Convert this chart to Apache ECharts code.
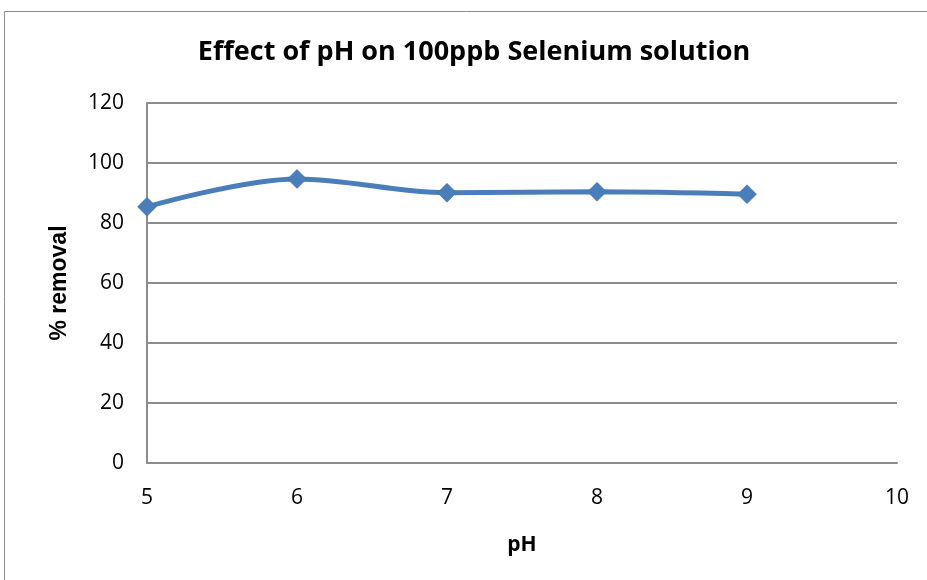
<!DOCTYPE html>
<html>
<head>
<meta charset="utf-8">
<script src="https://cdn.jsdelivr.net/npm/echarts@6/dist/echarts.min.js"></script>
<style>
  html, body { margin: 0; padding: 0; background: #fff; }
  #chart { width: 927px; height: 580px; }
</style>
</head>
<body>
<div id="chart"></div>
<script>
// pH values and the measured selenium removal (%)
const phValues = [5, 6, 7, 8, 9];
const removalPct = [85.4, 94.7, 90.1, 90.4, 89.6];
const yTicks = [0, 20, 40, 60, 80, 100, 120];
const xTicks = [5, 6, 7, 8, 9, 10];

const chart = echarts.init(document.getElementById('chart'), null, { renderer: 'canvas' });

const labelFont = '"Open Sans", "Liberation Sans", sans-serif';

chart.setOption({
  animation: false,
  backgroundColor: '#ffffff',
  title: {
    text: 'Effect of pH on 100ppb Selenium solution',
    left: 469,
    top: 34,
    textAlign: 'center',
    textStyle: { fontFamily: labelFont, fontWeight: 'bold', fontSize: 27, color: '#000' }
  },
  graphic: [{
    type: 'rect',
    shape: { x: 4.5, y: 11.5, width: 940, height: 600 },
    style: { fill: 'none', stroke: '#8a8a8a', lineWidth: 1 },
    silent: true
  }],
  grid: { left: 147, right: 30, top: 103, bottom: 117 },
  xAxis: {
    type: 'value',
    min: xTicks[0],
    max: xTicks[xTicks.length - 1],
    interval: 1,
    name: 'pH',
    nameLocation: 'middle',
    nameGap: 72,
    nameTextStyle: { fontFamily: labelFont, fontWeight: 'bold', fontSize: 21, color: '#000' },
    axisLine: { show: true, lineStyle: { color: '#8c8c8c', width: 2 } },
    axisTick: { show: false },
    splitLine: { show: false },
    axisLabel: { fontFamily: labelFont, fontSize: 21, color: '#000', margin: 25 }
  },
  yAxis: {
    type: 'value',
    min: yTicks[0],
    max: yTicks[yTicks.length - 1],
    interval: 20,
    name: '% removal',
    nameLocation: 'middle',
    nameGap: 76,
    nameRotate: 90,
    nameTextStyle: { fontFamily: '"Liberation Sans", Arial, sans-serif', fontWeight: 'bold', fontSize: 23, color: '#000' },
    axisLine: { show: true, lineStyle: { color: '#8c8c8c', width: 2 } },
    axisTick: { show: false },
    splitLine: { show: true, lineStyle: { color: '#8c8c8c', width: 2 } },
    axisLabel: { fontFamily: labelFont, fontSize: 21, color: '#000', margin: 23 }
  },
  series: [{
    type: 'line',
    data: phValues.map((p, i) => [p, removalPct[i]]),
    smooth: 0.35,
    symbol: 'diamond',
    symbolSize: 19,
    lineStyle: { color: '#4a7ebb', width: 5 },
    itemStyle: { color: '#4a7ebb', borderColor: '#3c6aa0', borderWidth: 0.5 },
    z: 5
  }]
});
</script>
</body>
</html>
